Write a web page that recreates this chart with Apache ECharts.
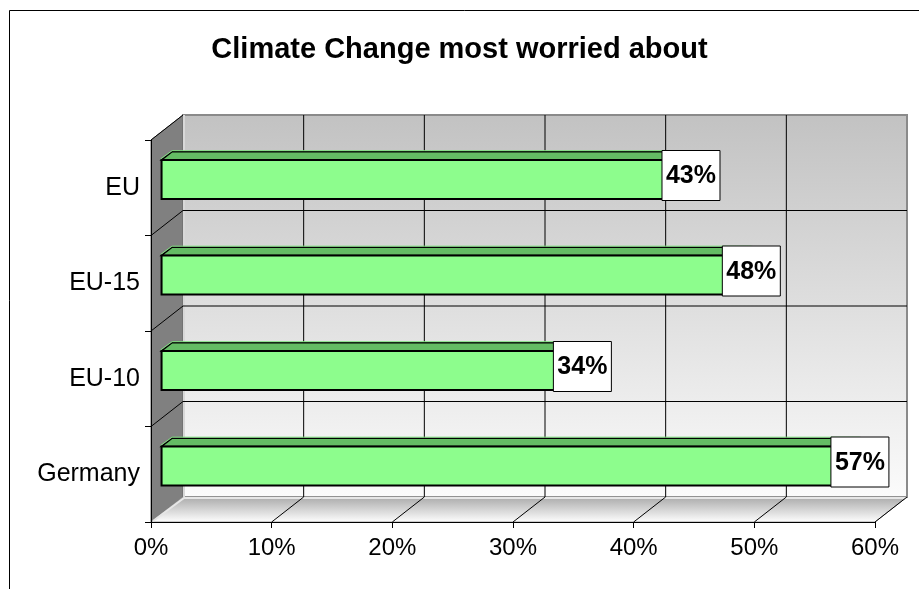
<!DOCTYPE html>
<html>
<head>
<meta charset="utf-8">
<title>Climate Change most worried about</title>
<script src="https://cdn.jsdelivr.net/npm/echarts@6/dist/echarts.min.js"></script>
<style>
  html, body { margin: 0; padding: 0; background: #fff; }
  #chart { width: 919px; height: 589px; }
</style>
</head>
<body>
<div id="chart"></div>
<script>
// data
const categories = ['EU', 'EU-15', 'EU-10', 'Germany'];
const values = [43, 48, 34, 57];
const xTicks = [0, 10, 20, 30, 40, 50, 60];

const FONT = '"Liberation Sans", Arial, sans-serif';
// pseudo 3d depth of the plot box (pixels)
const DX = 32;
const DY = -25;

const chart = echarts.init(document.getElementById('chart'));

// walls, floor and gridlines of the 3d box
function renderFrame(params, api) {
  const band = api.size([0, 1])[1];
  const last = categories.length - 1;
  const x0 = api.coord([0, 0])[0];
  const x1 = api.coord([xTicks[xTicks.length - 1], 0])[0];
  const top = api.coord([0, 0])[1] - band / 2;
  const bottom = api.coord([0, last])[1] + band / 2;
  const children = [];

  // back wall
  children.push({
    type: 'rect',
    shape: { x: x0 + DX, y: top + DY, width: x1 - x0, height: bottom - top },
    style: {
      fill: new echarts.graphic.LinearGradient(0, 0, 0, 1, [
        { offset: 0, color: '#c2c2c2' },
        { offset: 1, color: '#fbfbfb' }
      ]),
      stroke: '#8a8a8a',
      lineWidth: 2
    }
  });
  // left side wall
  children.push({
    type: 'polygon',
    shape: { points: [[x0, top], [x0 + DX, top + DY], [x0 + DX, bottom + DY], [x0, bottom]] },
    style: { fill: '#808080', stroke: '#666', lineWidth: 1 }
  });
  // floor
  children.push({
    type: 'polygon',
    shape: { points: [[x0, bottom], [x0 + DX, bottom + DY], [x1 + DX, bottom + DY], [x1, bottom]] },
    style: {
      fill: new echarts.graphic.LinearGradient(0, 0, 0, 1, [
        { offset: 0, color: '#a9a9a9' },
        { offset: 1, color: '#ffffff' }
      ]),
      stroke: '#9a9a9a',
      lineWidth: 1
    }
  });
  // light edge along the floor back and side wall bottom
  children.push({
    type: 'polyline',
    shape: { points: [[x0 + 2, bottom - 1], [x0 + DX + 1, bottom + DY + 1], [x1 + DX, bottom + DY + 1]] },
    style: { stroke: '#e6e6e6', lineWidth: 2, fill: null }
  });
  children.push({
    type: 'line',
    shape: { x1: x0 + DX + 1, y1: top + DY, x2: x0 + DX + 1, y2: bottom + DY },
    style: { stroke: '#d8d8d8', lineWidth: 2 }
  });

  // vertical gridlines on the back wall + diagonals on the floor
  xTicks.forEach(function (t, i) {
    const x = api.coord([t, 0])[0];
    if (i > 0 && i < xTicks.length - 1) {
      children.push({
        type: 'line',
        shape: { x1: x + DX, y1: top + DY, x2: x + DX, y2: bottom + DY },
        style: { stroke: '#000', lineWidth: 1 }
      });
    }
    if (i > 0) {
      children.push({
        type: 'line',
        shape: { x1: x, y1: bottom, x2: x + DX, y2: bottom + DY },
        style: { stroke: '#000', lineWidth: 1 }
      });
    }
  });

  // horizontal lines between categories
  for (let k = 1; k < categories.length; k++) {
    const y = api.coord([0, k])[1] - band / 2;
    children.push({
      type: 'line',
      shape: { x1: x0 + DX, y1: y + DY, x2: x1 + DX, y2: y + DY },
      style: { stroke: '#000', lineWidth: 1 }
    });
    children.push({
      type: 'line',
      shape: { x1: x0, y1: y, x2: x0 + DX, y2: y + DY },
      style: { stroke: '#000', lineWidth: 1 }
    });
  }
  children.push({
    type: 'line',
    shape: { x1: x0, y1: top, x2: x0 + DX, y2: top + DY },
    style: { stroke: '#000', lineWidth: 1 }
  });

  return { type: 'group', children: children };
}

// 3d bars with their value boxes
function renderBar(params, api) {
  const v = api.value(0);
  const idx = api.value(1);
  const band = api.size([0, 1])[1];
  const c0 = api.coord([0, idx]);
  const c1 = api.coord([v, idx]);
  const h = band * 0.41;
  const f1 = 0.33;
  const f2 = 0.66;
  const xs = c0[0] + DX * f1;
  const xe = c1[0] + DX * f1;
  const yc = c0[1] + DY * f1;
  const yt = yc - h / 2;
  const yb = yc + h / 2;
  const ddx = DX * (f2 - f1);
  const ddy = DY * (f2 - f1);
  const lx = xe + ddx;
  const ly = yc - 4;

  return {
    type: 'group',
    children: [
      {
        type: 'polygon',
        shape: { points: [[xs, yt], [xs + ddx, yt + ddy], [xe + ddx, yt + ddy], [xe, yt]] },
        style: { fill: '#64bc64', stroke: '#000', lineWidth: 1.5 }
      },
      {
        type: 'polyline',
        shape: { points: [[xs - 1, yt - 1], [xs + ddx, yt + ddy - 1], [xe + ddx, yt + ddy - 1]] },
        style: { stroke: '#7ee07e', lineWidth: 1, fill: null }
      },
      {
        type: 'polygon',
        shape: { points: [[xe, yt], [xe + ddx, yt + ddy], [xe + ddx, yb + ddy], [xe, yb]] },
        style: { fill: '#4c9c4c', stroke: '#000', lineWidth: 1.5 }
      },
      {
        type: 'rect',
        shape: { x: xs, y: yt, width: xe - xs, height: h },
        style: { fill: '#8dfd8d', stroke: '#000', lineWidth: 2 }
      },
      {
        type: 'rect',
        shape: { x: lx - 29, y: ly - 25, width: 58, height: 50 },
        style: { fill: '#fff', stroke: '#000', lineWidth: 1 }
      },
      {
        type: 'text',
        style: {
          x: lx, y: ly + 1,
          text: v + '%',
          fill: '#000',
          font: 'bold 25px ' + FONT,
          align: 'center',
          verticalAlign: 'middle'
        }
      }
    ]
  };
}

const option = {
  animation: false,
  backgroundColor: '#fff',
  title: {
    text: 'Climate Change most worried about',
    left: 'center',
    top: 30,
    textStyle: { fontFamily: FONT, fontSize: 29, fontWeight: 'bold', color: '#000' }
  },
  graphic: [
    {
      type: 'rect',
      shape: { x: 9.5, y: 10.5, width: 1000, height: 1000 },
      style: { fill: null, stroke: '#000', lineWidth: 1 },
      z: -1
    }
  ],
  grid: {
    left: 151,
    right: 44,
    top: 140,
    bottom: 67,
    containLabel: false,
    outerBoundsMode: 'none'
  },
  xAxis: {
    type: 'value',
    min: 0,
    max: 60,
    interval: 10,
    z: 5,
    axisLine: { show: true, lineStyle: { color: '#000', width: 1 } },
    axisTick: { show: true, length: 6, lineStyle: { color: '#000' } },
    splitLine: { show: false },
    axisLabel: {
      formatter: '{value}%',
      margin: 14,
      color: '#000',
      fontFamily: FONT,
      fontSize: 24
    }
  },
  yAxis: {
    type: 'category',
    data: categories,
    inverse: true,
    z: 5,
    axisLine: { show: true, lineStyle: { color: '#000', width: 1 } },
    axisTick: { show: true, length: 6, alignWithLabel: false, lineStyle: { color: '#000' } },
    splitLine: { show: false },
    axisLabel: {
      margin: 11,
      color: '#000',
      fontFamily: FONT,
      fontSize: 25
    }
  },
  series: [
    {
      type: 'custom',
      name: 'frame',
      z: 1,
      silent: true,
      renderItem: renderFrame,
      data: [[0, 0]],
      encode: { x: 0, y: 1 }
    },
    {
      type: 'custom',
      name: 'Climate Change',
      z: 2,
      renderItem: renderBar,
      data: values.map(function (v, i) { return [v, i]; }),
      encode: { x: 0, y: 1 }
    }
  ]
};

chart.setOption(option);
</script>
</body>
</html>
